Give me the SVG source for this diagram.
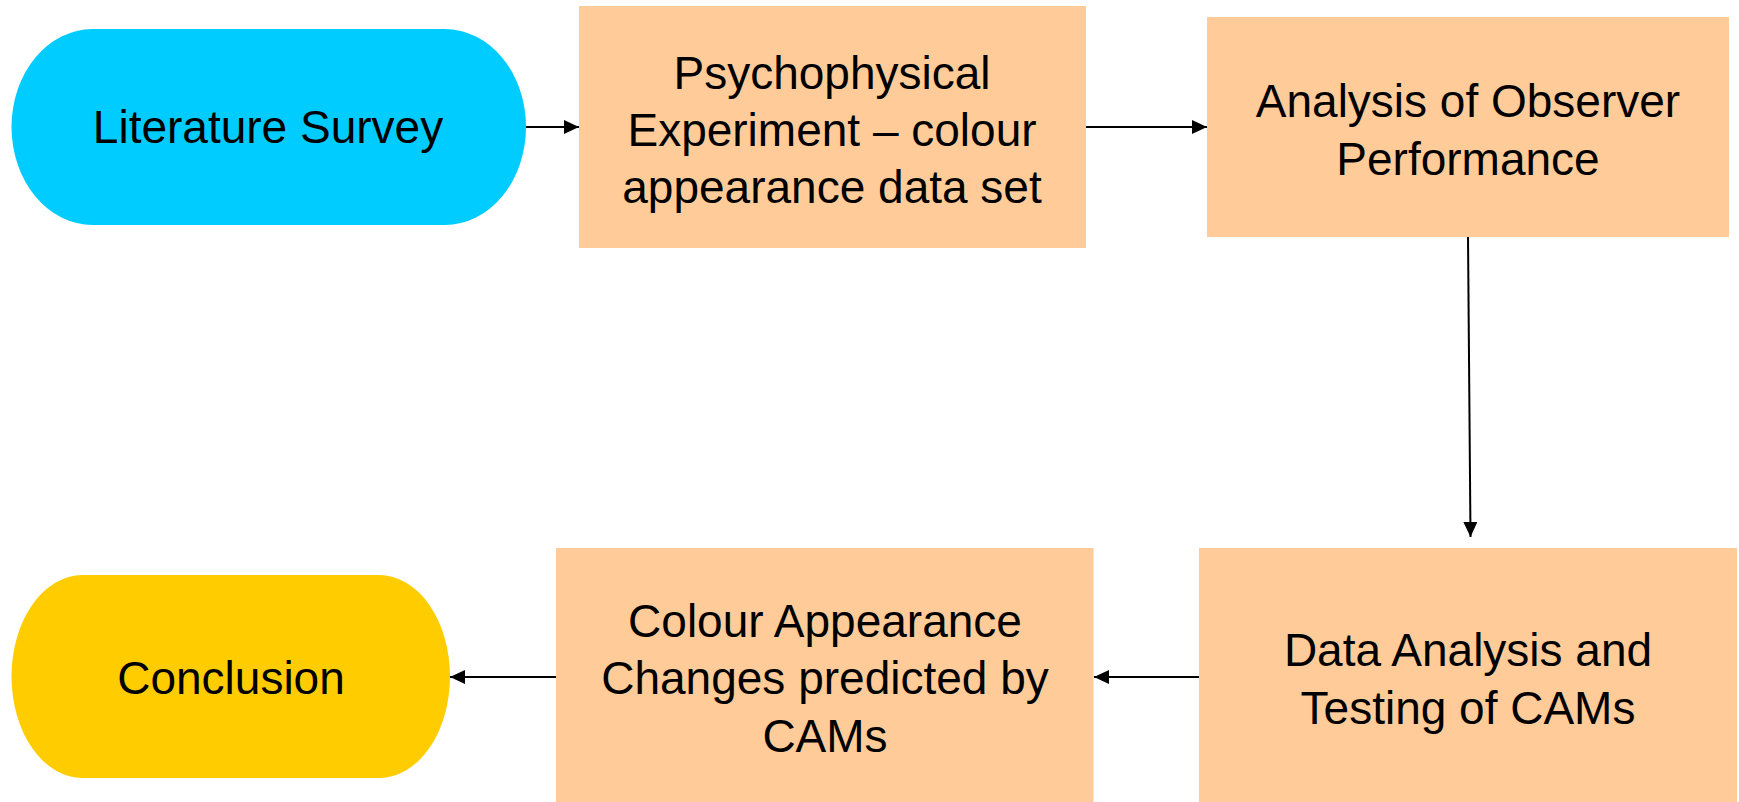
<svg xmlns="http://www.w3.org/2000/svg" width="1739" height="802" viewBox="0 0 1739 802">
<style>
.t{font-family:"Liberation Sans",Arial,sans-serif;font-size:46px;fill:#000;text-anchor:middle}
.box{fill:#FFCC99}
.c{stroke:#000;stroke-width:2;fill:none;marker-end:url(#ah)}
</style>
<defs>
<marker id="ah" viewBox="0 0 15 14" refX="15" refY="7" markerWidth="15" markerHeight="14" markerUnits="userSpaceOnUse" orient="auto">
<path d="M0,0 L15,7 L0,14 z" fill="#000"/>
</marker>
</defs>
<rect width="1739" height="802" fill="#fff"/>
<g id="connectors">
<line class="c" x1="526" y1="127" x2="579" y2="127"/>
<line class="c" x1="1086" y1="127" x2="1207" y2="127"/>
<line class="c" x1="1468" y1="237" x2="1470.5" y2="537"/>
<line class="c" x1="1199" y1="677" x2="1094" y2="677"/>
<line class="c" x1="556" y1="677" x2="450" y2="677"/>
</g>
<g id="literature-survey">
<rect x="11.5" y="29" width="514.5" height="196" rx="81" ry="98" fill="#00CCFF"/>
<text class="t" x="268" y="143">Literature Survey</text>
</g>
<g id="psychophysical">
<rect class="box" x="579" y="6" width="507" height="242"/>
<text class="t" x="832" y="89">Psychophysical</text>
<text class="t" x="832" y="146">Experiment – colour</text>
<text class="t" x="832" y="203">appearance data set</text>
</g>
<g id="analysis-observer">
<rect class="box" x="1207" y="17" width="522" height="220"/>
<text class="t" x="1468" y="117">Analysis of Observer</text>
<text class="t" x="1468" y="175">Performance</text>
</g>
<g id="data-analysis">
<rect class="box" x="1199" y="548" width="538" height="254"/>
<text class="t" x="1468" y="666">Data Analysis and</text>
<text class="t" x="1468" y="724">Testing of CAMs</text>
</g>
<g id="colour-appearance">
<rect class="box" x="556" y="548" width="537.5" height="254"/>
<text class="t" x="825" y="637">Colour Appearance</text>
<text class="t" x="825" y="694">Changes predicted by</text>
<text class="t" x="825" y="752">CAMs</text>
</g>
<g id="conclusion">
<rect x="11.5" y="575" width="438.5" height="203" rx="71" ry="101.5" fill="#FFCC00"/>
<text class="t" x="231" y="694">Conclusion</text>
</g>
</svg>
